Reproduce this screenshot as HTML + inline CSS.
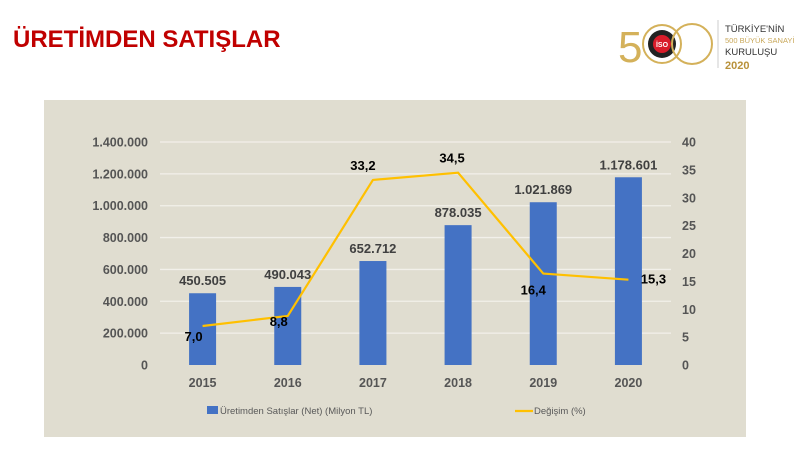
<!DOCTYPE html>
<html><head><meta charset="utf-8">
<style>
body{margin:0;width:800px;height:450px;background:#fff;overflow:hidden;font-family:"Liberation Sans",sans-serif;}
#title{position:absolute;left:13px;top:26px;font-size:24px;font-weight:bold;color:#c00000;letter-spacing:0px;}
svg text{font-family:"Liberation Sans",sans-serif;}
</style></head>
<body>
<div id="title">ÜRETİMDEN SATIŞLAR</div>
<svg id="logo" width="190" height="70" style="position:absolute;left:610px;top:10px" viewBox="0 0 190 70">
 <text x="8" y="52" font-size="44" fill="#d4b15a" font-weight="normal">5</text>
 <circle cx="52" cy="34" r="19" fill="none" stroke="#d4b15a" stroke-width="2"/>
 <circle cx="52" cy="34" r="14" fill="#222"/>
 <circle cx="52" cy="34" r="9" fill="#d91c2a"/>
 <text x="52" y="37" font-size="7" fill="#fff" text-anchor="middle" font-weight="bold">İSO</text>
 <circle cx="82" cy="34" r="20" fill="none" stroke="#d4b15a" stroke-width="2"/>
 <line x1="108" y1="10" x2="108" y2="58" stroke="#ccc" stroke-width="1"/>
 <text x="115" y="22" font-size="9.5" fill="#333">TÜRKİYE'NİN</text>
 <text x="115" y="33" font-size="7.5" fill="#c9a85a">500 BÜYÜK SANAYİ</text>
 <text x="115" y="45" font-size="9.5" fill="#333">KURULUŞU</text>
 <text x="115" y="59" font-size="11" fill="#b8913a" font-weight="bold">2020</text>
</svg>
<svg id="chart" width="800" height="450" style="position:absolute;left:0;top:0"></svg>
<script>
const categories=["2015","2016","2017","2018","2019","2020"];
const salesValues=[450505,490043,652712,878035,1021869,1178601];
const salesLabels=["450.505","490.043","652.712","878.035","1.021.869","1.178.601"];
const changeValues=[7.0,8.8,33.2,34.5,16.4,15.3];
const changeLabels=["7,0","8,8","33,2","34,5","16,4","15,3"];
const leftTicks=[0,200000,400000,600000,800000,1000000,1200000,1400000];
const leftTickLabels=["0","200.000","400.000","600.000","800.000","1.000.000","1.200.000","1.400.000"];
const rightTicks=[0,5,10,15,20,25,30,35,40];

const NS="http://www.w3.org/2000/svg";
const svg=document.getElementById('chart');
function mk(t,a,p){const e=document.createElementNS(NS,t);for(const k in a)e.setAttribute(k,a[k]);(p||svg).appendChild(e);return e;}
const X0=160,X1=671,Y0=365,Y1=142;
const band=(X1-X0)/categories.length;
const xC=i=>X0+band*(i+0.5);
const yL=v=>Y0-(v/1400000)*(Y0-Y1);
const yR=v=>Y0-(v/40)*(Y0-Y1);

const bg=mk('rect',{x:44,y:100,width:702,height:337,fill:'#e0ddd0'});



leftTicks.forEach((v,i)=>{
 if(v>0){const g=mk('line',{x1:X0,x2:X1,y1:yL(v),y2:yL(v),stroke:'#f2f0ea','stroke-width':1.3});
 
 }
 const t=mk('text',{x:148,y:yL(v)+4.5,'text-anchor':'end','font-size':12.5,'font-weight':'bold',fill:'#555'});
 t.textContent=leftTickLabels[i];
 
 
});
rightTicks.forEach(v=>{
 const t=mk('text',{x:682,y:yR(v)+4.5,'font-size':12.5,'font-weight':'bold',fill:'#555'});
 t.textContent=String(v);
 
 
});
categories.forEach((c,i)=>{
 const b=mk('rect',{x:xC(i)-13.5,y:yL(salesValues[i]),width:27,height:Y0-yL(salesValues[i]),fill:'#4472c4'});
 
 
 const l=mk('text',{x:xC(i),y:yL(salesValues[i])-8,'text-anchor':'middle','font-size':13,'font-weight':'bold',fill:'#404040'});
 l.textContent=salesLabels[i];
 
 
 const x=mk('text',{x:xC(i),y:387,'text-anchor':'middle','font-size':12.5,'font-weight':'bold',fill:'#555'});
 x.textContent=c;
 
 
});
const pts=changeValues.map((v,i)=>xC(i)+','+yR(v)).join(' ');
const pl=mk('polyline',{points:pts,fill:'none',stroke:'#ffc000','stroke-width':2.2,'stroke-linejoin':'round'});


const off=[[-9,15],[-9,10],[-10,-10],[-6,-10],[-10,21],[25,4]];
changeValues.forEach((v,i)=>{
 const t=mk('text',{x:xC(i)+off[i][0],y:yR(v)+off[i][1],'text-anchor':'middle','font-size':13,'font-weight':'bold',fill:'#000'});
 t.textContent=changeLabels[i];
 
 
});
const lg1=mk('rect',{x:207,y:406,width:11,height:8,fill:'#4472c4'});


const lt1=mk('text',{x:220,y:414,'font-size':9.5,fill:'#595959'});
lt1.textContent='Üretimden Satışlar (Net) (Milyon TL)';


const lg2=mk('line',{x1:515,x2:533,y1:411,y2:411,stroke:'#ffc000','stroke-width':2.2});


const lt2=mk('text',{x:534,y:414,'font-size':9.5,fill:'#595959'});
lt2.textContent='Değişim (%)';


</script>
</body></html>
